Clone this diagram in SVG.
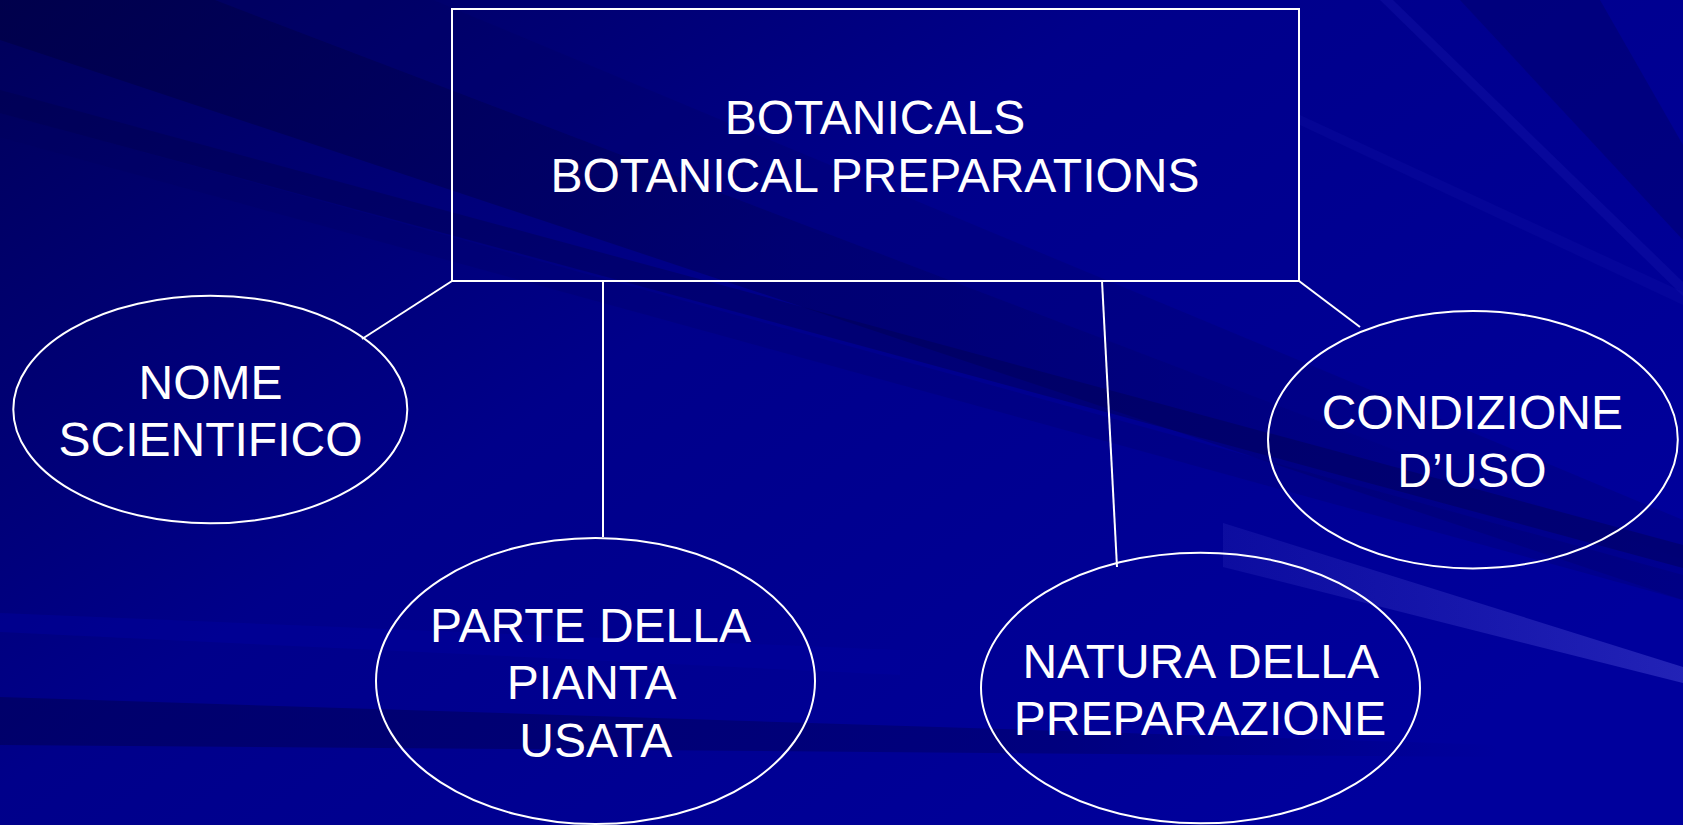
<svg xmlns="http://www.w3.org/2000/svg" width="1683" height="825" viewBox="0 0 1683 825">
  <defs>
    <linearGradient id="bg" x1="0" y1="0" x2="1" y2="0.7">
      <stop offset="0" stop-color="#00005a"/>
      <stop offset="0.45" stop-color="#00008a"/>
      <stop offset="1" stop-color="#00009c"/>
    </linearGradient>
    <linearGradient id="lightStreak" x1="0" y1="0" x2="1" y2="0">
      <stop offset="0" stop-color="#2a2ab8" stop-opacity="0.3"/>
      <stop offset="1" stop-color="#3a3ac8" stop-opacity="0.6"/>
    </linearGradient>
    <linearGradient id="darkFade" x1="0" y1="0" x2="1" y2="0">
      <stop offset="0" stop-color="#000058" stop-opacity="0.6"/>
      <stop offset="0.7" stop-color="#000058" stop-opacity="0.4"/>
      <stop offset="1" stop-color="#000058" stop-opacity="0"/>
    </linearGradient>
    <linearGradient id="bandFade" x1="0" y1="0" x2="1" y2="0">
      <stop offset="0" stop-color="#000040" stop-opacity="0.55"/>
      <stop offset="0.6" stop-color="#000050" stop-opacity="0.35"/>
      <stop offset="1" stop-color="#000060" stop-opacity="0.2"/>
    </linearGradient>
    <style>
      .lbl { font-family: "Liberation Sans", Arial, sans-serif; font-size: 48px; fill: #ffffff; text-anchor: middle; }
      .shape { fill: none; stroke: #ffffff; stroke-width: 2; }
      .conn line { stroke: #ffffff; stroke-width: 2; }
    </style>
  </defs>

  <!-- background -->
  <g id="background">
    <rect x="0" y="0" width="1683" height="825" fill="url(#bg)"/>
    <polygon points="0,0 215,0 1683,560 1683,600 0,40" fill="url(#bandFade)"/>
    <polygon points="215,0 433,0 1683,520 1683,560" fill="#000058" opacity="0.2"/>
    <polygon points="0,90 0,113 1683,568 1683,545" fill="#000048" opacity="0.35"/>
    <polygon points="0,113 0,137 1683,600 1683,575" fill="#000058" opacity="0.2"/>
    <polygon points="0,613 900,650 900,675 0,632" fill="#0000a0" opacity="0.4"/>
    <polygon points="0,697 1500,745 1500,757 0,745" fill="url(#darkFade)"/>
    <polygon points="1223,523 1683,667 1683,683 1223,567" fill="url(#lightStreak)"/>
    <polygon points="1460,0 1600,0 1683,145 1683,240" fill="#000068" opacity="0.45"/>
    <polygon points="1380,0 1393,0 1683,282 1683,296" fill="#1a1ab0" opacity="0.3"/>
    <polygon points="1300,115 1300,125 1683,305 1683,292" fill="#1a1ab0" opacity="0.2"/>
  </g>

  <!-- connectors -->
  <g id="connectors" class="conn">
    <line x1="452" y1="281" x2="362" y2="339"/>
    <line x1="603" y1="281" x2="603" y2="537"/>
    <line x1="1102" y1="281" x2="1117" y2="567"/>
    <line x1="1299" y1="281" x2="1360" y2="327"/>
  </g>

  <g id="node-botanicals">
    <rect class="shape" x="452" y="9" width="847" height="272"/>
    <text class="lbl" x="875" y="134">BOTANICALS</text>
    <text class="lbl" x="875" y="191.5">BOTANICAL PREPARATIONS</text>
  </g>

  <g id="node-nome">
    <ellipse class="shape" cx="210.3" cy="409.5" rx="197" ry="113.8"/>
    <text class="lbl" x="210.5" y="399.3">NOME</text>
    <text class="lbl" x="210.5" y="456">SCIENTIFICO</text>
  </g>

  <g id="node-parte">
    <ellipse class="shape" cx="595.5" cy="681" rx="219.5" ry="143"/>
    <text class="lbl" x="590.5" y="641.7">PARTE DELLA</text>
    <text class="lbl" x="591.7" y="699.3">PIANTA</text>
    <text class="lbl" x="595.8" y="756.7">USATA</text>
  </g>

  <g id="node-natura">
    <ellipse class="shape" cx="1200.5" cy="688" rx="219.5" ry="135.3"/>
    <text class="lbl" x="1200.8" y="678.3">NATURA DELLA</text>
    <text class="lbl" x="1200" y="735">PREPARAZIONE</text>
  </g>

  <g id="node-condizione">
    <ellipse class="shape" cx="1472.9" cy="439.7" rx="204.9" ry="128.7"/>
    <text class="lbl" x="1472.3" y="429">CONDIZIONE</text>
    <text class="lbl" x="1472" y="486.7">D’USO</text>
  </g>
</svg>
